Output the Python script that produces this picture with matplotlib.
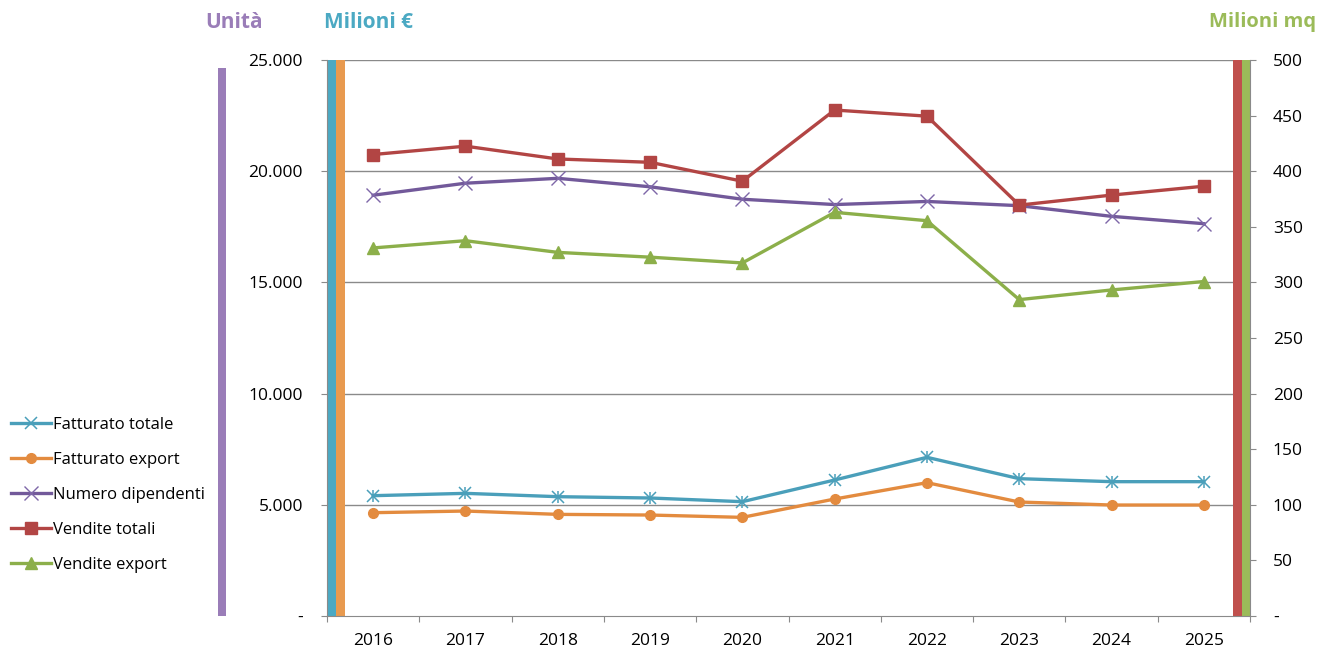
import matplotlib
matplotlib.use("Agg")
import matplotlib.pyplot as plt
from matplotlib.patches import Rectangle
import numpy as np

years = ["2016", "2017", "2018", "2019", "2020", "2021", "2022", "2023", "2024", "2025"]
fatturato_totale = [5410, 5515, 5365, 5306, 5140, 6115, 7135, 6175, 6040, 6040]
fatturato_export = [4645, 4720, 4570, 4540, 4435, 5260, 5995, 5125, 4990, 4990]
numero_dipendenti = [18920, 19460, 19680, 19300, 18740, 18500, 18640, 18450, 17970, 17640]
vendite_totali = [415, 422.5, 411, 408, 391, 455, 449.5, 369.5, 378.5, 386.5]
vendite_export = [331, 337.5, 327, 322.7, 317.5, 363, 355.5, 284.5, 293.2, 300.8]

left_ticks = [0, 5000, 10000, 15000, 20000, 25000]
left_labels = ["-", "5.000", "10.000", "15.000", "20.000", "25.000"]
right_ticks = [0, 50, 100, 150, 200, 250, 300, 350, 400, 450, 500]
right_labels = ["-", "50", "100", "150", "200", "250", "300", "350", "400", "450", "500"]

C_TEAL = "#4A9FBA"
C_ORANGE = "#E38B3F"
C_PURPLE = "#72599A"
C_RED = "#B24544"
C_GREEN = "#8CAF4A"

plt.rcParams['font.family'] = ['Open Sans', 'DejaVu Sans']
FS = 12.5
LFS = 12

W, H = 1317, 650
fig = plt.figure(figsize=(W / 100, H / 100), dpi=100)
L, R, B, T = 327 / W, 1250 / W, (H - 616) / H, (H - 60) / H
ax = fig.add_axes([L, B, R - L, T - B])
ax2 = ax.twinx()

x = np.arange(len(years))
ax.set_xlim(-0.5, len(years) - 0.5)
ax.set_ylim(0, 25000)
ax2.set_ylim(0, 500)

for yv in left_ticks[1:]:
    ax.axhline(yv, color="#8a8a8a", lw=1.0, zorder=1)

# decorative axis colour bars
ax.add_patch(Rectangle((0, 0), 9 / 923, 1, transform=ax.transAxes, color="#4BA9C3", zorder=2, lw=0))
ax.add_patch(Rectangle((9 / 923, 0), 8.5 / 923, 1, transform=ax.transAxes, color="#E89A4F", zorder=2, lw=0))
ax.add_patch(Rectangle((1 - 17 / 923, 0), 8.5 / 923, 1, transform=ax.transAxes, color="#C0504D", zorder=2, lw=0))
ax.add_patch(Rectangle((1 - 8.5 / 923, 0), 8.5 / 923, 1, transform=ax.transAxes, color="#9BBB59", zorder=2, lw=0))
fig.patches.append(Rectangle((218 / W, (H - 616) / H), 8 / W, (616 - 68) / H,
                             transform=fig.transFigure, color="#9A7DB8", lw=0))

lw = 2.4
h1, = ax.plot(x, fatturato_totale, color=C_TEAL, lw=lw, marker="x", ms=8, mew=1.1, zorder=4)
ax.plot(x, fatturato_totale, color=C_TEAL, lw=0, marker="|", ms=9, mew=1.1, zorder=4)
h2, = ax.plot(x, fatturato_export, color=C_ORANGE, lw=lw, marker="o", ms=7, zorder=4)
h3, = ax.plot(x, numero_dipendenti, color=C_PURPLE, lw=lw, marker="x", ms=10, mew=1.0,
              mec="#7E67A8", zorder=4)
h4, = ax2.plot(x, vendite_totali, color=C_RED, lw=lw, marker="s", ms=8.5, zorder=4)
h5, = ax2.plot(x, vendite_export, color=C_GREEN, lw=lw, marker="^", ms=8.5, zorder=4)

# x axis ticks at category boundaries, labels at centers
ax.set_xticks(np.arange(-0.5, len(years)), minor=False)
ax.set_xticklabels([])
ax.set_xticks(x, minor=True)
ax.set_xticklabels(years, minor=True, fontsize=FS)
ax.tick_params(axis="x", which="major", length=4.5, color="#8a8a8a", direction="out")
ax.tick_params(axis="x", which="minor", length=0, pad=12)

ax.set_yticks(left_ticks)
ax.set_yticklabels(left_labels, fontsize=FS)
ax.tick_params(axis="y", length=4, color="#8a8a8a", pad=13.3)
ax2.set_yticks(right_ticks)
ax2.set_yticklabels(right_labels, fontsize=FS)
ax2.tick_params(axis="y", length=4, color="#8a8a8a", pad=12.5)

for a in (ax, ax2):
    a.spines["top"].set_visible(False)
    a.spines["left"].set_color("#8a8a8a")
    a.spines["right"].set_color("#8a8a8a")
    a.spines["bottom"].set_color("#8a8a8a")
ax2.spines["left"].set_visible(False)
ax2.spines["bottom"].set_visible(False)
ax.spines["right"].set_visible(False)

fig.text(205 / W, 1 - 22 / H, "Unità", color="#9A7DB8", fontsize=15, fontweight="bold", va="center", ha="left")
fig.text(324 / W, 1 - 22 / H, "Milioni €", color="#4BA9C3", fontsize=15, fontweight="bold", va="center", ha="left")
fig.text(1316 / W, 1 - 22 / H, "Milioni mq", color="#9BBB59", fontsize=14.5, fontweight="bold", va="center", ha="right")

fig.legend([h1, h2, h3, h4, h5],
           ["Fatturato totale", "Fatturato export", "Numero dipendenti", "Vendite totali", "Vendite export"],
           loc="upper left", bbox_to_anchor=(4 / W, 1 - 410 / H), frameon=False, fontsize=LFS,
           handlelength=2.4, handletextpad=0.15, labelspacing=1.14, borderaxespad=0)

fig.savefig("out.png", dpi=100)
